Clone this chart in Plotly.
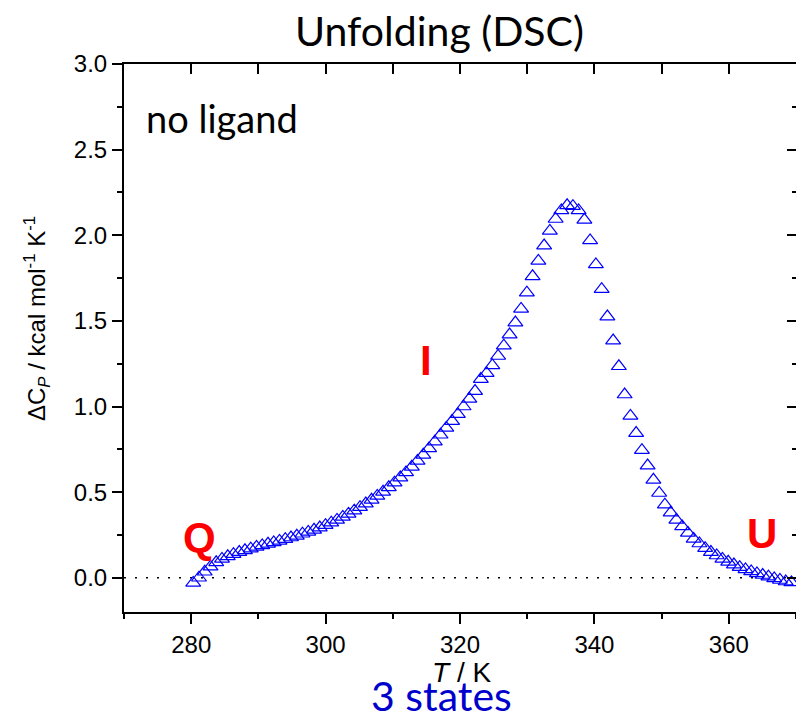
import plotly.graph_objects as go

# ---- data ----
temperature_K = [
    280.30, 281.16, 282.01, 282.87, 283.72, 284.58, 285.44, 286.29, 287.15, 288.00,
    288.86, 289.72, 290.57, 291.43, 292.28, 293.14, 294.00, 294.85, 295.71, 296.56,
    297.42, 298.28, 299.13, 299.99, 300.84, 301.70, 302.56, 303.41, 304.27, 305.12,
    305.98, 306.84, 307.69, 308.55, 309.40, 310.26, 311.12, 311.97, 312.83, 313.68,
    314.54, 315.40, 316.25, 317.11, 317.96, 318.82, 319.68, 320.53, 321.39, 322.24,
    323.10, 323.96, 324.81, 325.67, 326.52, 327.38, 328.24, 329.09, 329.95, 330.80,
    331.66, 332.52, 333.37, 334.23, 335.08, 335.94, 336.80, 337.65, 338.51, 339.36,
    340.22, 341.08, 341.93, 342.79, 343.64, 344.50, 345.36, 346.21, 347.07, 347.92,
    348.78, 349.64, 350.49, 351.35, 352.20, 353.06, 353.92, 354.77, 355.63, 356.48,
    357.34, 358.20, 359.05, 359.91, 360.76, 361.62, 362.48, 363.33, 364.19, 365.04,
    365.90, 366.76, 367.61, 368.47, 369.32,
]
delta_cp = [
    -0.030, 0.000, 0.035, 0.065, 0.090, 0.110, 0.125, 0.138, 0.150, 0.160,
    0.170, 0.180, 0.189, 0.198, 0.206, 0.215, 0.225, 0.235, 0.245, 0.257,
    0.268, 0.280, 0.293, 0.307, 0.322, 0.338, 0.355, 0.373, 0.392, 0.412,
    0.433, 0.455, 0.478, 0.502, 0.528, 0.555, 0.585, 0.615, 0.648, 0.682,
    0.718, 0.755, 0.795, 0.835, 0.875, 0.915, 0.955, 1.000, 1.045, 1.090,
    1.160, 1.195, 1.240, 1.295, 1.355, 1.420, 1.490, 1.570, 1.665, 1.760,
    1.850, 1.940, 2.025, 2.095, 2.145, 2.175, 2.170, 2.145, 2.090, 1.970,
    1.830, 1.685, 1.525, 1.385, 1.235, 1.070, 0.945, 0.845, 0.745, 0.655,
    0.572, 0.495, 0.427, 0.380, 0.338, 0.300, 0.262, 0.227, 0.200, 0.173,
    0.150, 0.130, 0.110, 0.093, 0.077, 0.062, 0.049, 0.037, 0.025, 0.016,
    0.006, -0.004, -0.013, -0.022, -0.027,
]

x_range = [270, 370]
y_range = [-0.2, 3.0]
x_tick_vals = [280, 300, 320, 340, 360]
x_top_tick_vals = [280, 290, 300, 310, 320, 330, 340, 350, 360]
y_tick_vals = [0.0, 0.5, 1.0, 1.5, 2.0, 2.5, 3.0]
y_tick_text = ["0.0", "0.5", "1.0", "1.5", "2.0", "2.5", "3.0"]

AX_FONT = "Liberation Sans, Arial, sans-serif"
TXT_FONT = "Lato, Open Sans, sans-serif"

fig = go.Figure()
fig.add_trace(go.Scatter(
    x=temperature_K, y=delta_cp, mode="markers",
    marker=dict(symbol="triangle-up-open", size=13, color="#0000FF",
                line=dict(width=1.2, color="#0000FF")),
    showlegend=False, hoverinfo="x+y",
))

axis_common = dict(showgrid=False, zeroline=False, showline=True,
                   linecolor="black", linewidth=2, tickcolor="black",
                   tickwidth=2)

fig.update_layout(
    width=796, height=722,
    margin=dict(l=124, r=0, t=64, b=110),
    paper_bgcolor="white", plot_bgcolor="white",
    xaxis=dict(range=x_range, tickvals=x_tick_vals, ticks="outside", ticklen=10,
               minor=dict(dtick=10, tick0=270, ticks="outside", ticklen=5,
                          tickwidth=2, tickcolor="black"),
               tickfont=dict(family=AX_FONT, size=24, color="black"),
               **axis_common),
    yaxis=dict(range=y_range, tickvals=y_tick_vals, ticktext=y_tick_text,
               ticks="outside", ticklen=10,
               minor=dict(dtick=0.25, tick0=0, ticks="outside", ticklen=5,
                          tickwidth=2, tickcolor="black"),
               tickfont=dict(family=AX_FONT, size=24, color="black"),
               **axis_common),
    xaxis2=dict(range=x_range, overlaying="x", side="top", anchor="y",
                tickvals=x_top_tick_vals, ticks="inside", ticklen=10,
                showticklabels=False, **axis_common),
    yaxis2=dict(range=y_range, overlaying="y", side="right", anchor="x",
                tickvals=y_tick_vals, ticks="inside", ticklen=9,
                minor=dict(dtick=0.25, tick0=0, ticks="inside", ticklen=4,
                           tickwidth=2, tickcolor="black"),
                showticklabels=False, **axis_common),
)

fig.add_trace(go.Scatter(x=[None], y=[None], xaxis="x2", yaxis="y2",
                         showlegend=False, hoverinfo="skip"))

fig.add_shape(type="line", xref="paper", x0=0, x1=1, yref="y", y0=0, y1=0,
              line=dict(color="black", width=1.5, dash="2px,9px"), layer="below")

def px_x(px):
    return (px - 124) / 672.0

def px_y(py):
    return (612 - py) / 548.0

annotations = [
    dict(text="Unfolding (DSC)", x=px_x(439), y=px_y(31),
         font=dict(family=TXT_FONT, size=41, color="black")),
    dict(text="no ligand", x=px_x(144), y=px_y(118), xanchor="left",
         font=dict(family=TXT_FONT, size=38, color="black")),
    dict(text="<b>Q</b>", x=px_x(199), y=px_y(537),
         font=dict(family=AX_FONT, size=42, color="#FF0000")),
    dict(text="<b>U</b>", x=px_x(762), y=px_y(533),
         font=dict(family=AX_FONT, size=42, color="#FF0000")),
    dict(text="<b>I</b>", x=px_x(426), y=px_y(360),
         font=dict(family=AX_FONT, size=42, color="#FF0000")),
    dict(text="<i>T</i> / K", x=px_x(461), y=px_y(672),
         font=dict(family=AX_FONT, size=28, color="black")),
    dict(text="3 states", x=px_x(441), y=px_y(722), yanchor="bottom",
         font=dict(family=TXT_FONT, size=41, color="#0000CC")),
    dict(text="ΔC<sub><i>P</i></sub> / kcal mol<sup>-1</sup> K<sup>-1</sup>",
         x=px_x(37), y=px_y(318), textangle=-90,
         font=dict(family=AX_FONT, size=24, color="black")),
]
for a in annotations:
    a.setdefault("xanchor", "center")
    a.setdefault("yanchor", "middle")
    fig.add_annotation(xref="paper", yref="paper", showarrow=False, **a)

fig.write_html("out.html")
